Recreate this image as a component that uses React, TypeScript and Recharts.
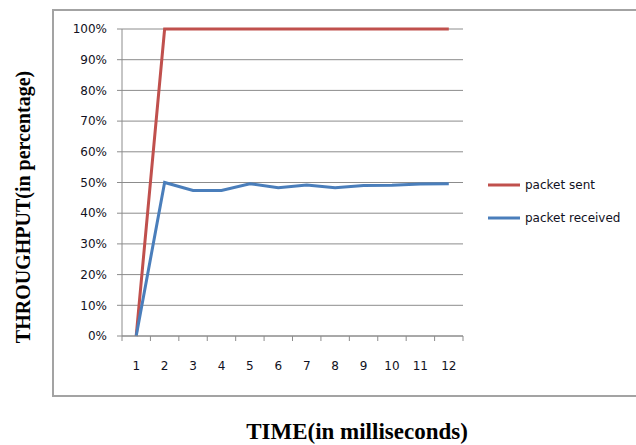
import { LineChart, Line, XAxis, YAxis, CartesianGrid, Legend, Label } from 'recharts';

const times = ['1', '2', '3', '4', '5', '6', '7', '8', '9', '10', '11', '12'];
const packetSent = [0, 100, 100, 100, 100, 100, 100, 100, 100, 100, 100, 100];
const packetReceived = [0, 50, 47.4, 47.4, 49.6, 48.3, 49.2, 48.3, 49, 49.1, 49.5, 49.6];
const yTicks = [0, 10, 20, 30, 40, 50, 60, 70, 80, 90, 100];

const data = times.map((t, i) => ({ time: t, sent: packetSent[i], received: packetReceived[i] }));

const series = [
  { key: 'sent', name: 'packet sent', color: '#C0504D' },
  { key: 'received', name: 'packet received', color: '#4A7EBB' },
];

const tickFont = { fontFamily: 'DejaVu Sans', fontSize: 12, fill: '#111122' };
const halfBand = 14.2;

// excel style category ticks: marks sit between the categories
const TimeTick = (props: any) => {
  const { x, y, payload, index } = props;
  return (
    <g>
      <line x1={x - halfBand} x2={x - halfBand} y1={y} y2={y + 5} stroke="#8c8c8c" />
      {index === times.length - 1 && (
        <line x1={x + halfBand} x2={x + halfBand} y1={y} y2={y + 5} stroke="#8c8c8c" />
      )}
      <text x={x} y={y + 34} textAnchor="middle" {...tickFont}>
        {payload.value}
      </text>
    </g>
  );
};

const renderLegend = () => (
  <div style={{ fontFamily: 'DejaVu Sans', fontSize: 12, color: '#111122' }}>
    {series.map((s) => (
      <div key={s.key} style={{ display: 'flex', alignItems: 'center', height: 33 }}>
        <svg width={34} height={6} style={{ marginRight: 4 }}>
          <line x1={1} x2={33} y1={3} y2={3} stroke={s.color} strokeWidth={3} />
        </svg>
        <span>{s.name}</span>
      </div>
    ))}
  </div>
);

const App = () => {
  return (
    <div style={{ position: 'absolute', left: 0, top: 0, width: 636, height: 445, overflow: 'hidden', background: '#fff' }}>
      <div
        style={{
          position: 'absolute',
          left: 52,
          top: 9,
          width: 600,
          height: 384,
          border: '2px solid #a3a3a3',
        }}
      />
      <div style={{ position: 'absolute', left: 0, top: 0 }}>
        <LineChart width={636} height={445} data={data} margin={{ top: 29, right: 173, bottom: 69, left: 0 }}>
          <CartesianGrid vertical={false} stroke="#8c8c8c" />
          <XAxis
            dataKey="time"
            padding={{ left: halfBand, right: halfBand }}
            interval={0}
            height={40}
            tickLine={false}
            tickSize={0}
            tickMargin={0}
            tick={<TimeTick />}
            axisLine={{ stroke: '#8c8c8c' }}
          >
            <Label
              content={() => (
                <text x={357} y={439} textAnchor="middle" fontFamily="Liberation Serif" fontWeight="bold" fontSize={23} fill="#000">
                  TIME(in milliseconds)
                </text>
              )}
            />
          </XAxis>
          <YAxis
            width={122}
            domain={[0, 100]}
            ticks={yTicks}
            interval={0}
            tickFormatter={(v) => `${v}%`}
            tickSize={5}
            tickMargin={10}
            tick={tickFont}
            tickLine={{ stroke: '#8c8c8c' }}
            axisLine={{ stroke: '#8c8c8c' }}
          >
            <Label
              content={() => (
                <text
                  x={30}
                  y={207}
                  transform="rotate(-90 30 207)"
                  textAnchor="middle"
                  fontFamily="Liberation Serif"
                  fontWeight="bold"
                  fontSize={20}
                  fill="#000"
                >
                  THROUGHPUT(in percentage)
                </text>
              )}
            />
          </YAxis>
          <Legend
            layout="horizontal"
            verticalAlign="middle"
            align="center"
            content={renderLegend}
            wrapperStyle={{ left: 487, top: 168, width: 150 }}
          />
          {series.map((s) => (
            <Line
              key={s.key}
              dataKey={s.key}
              name={s.name}
              stroke={s.color}
              strokeWidth={3}
              dot={false}
              isAnimationActive={false}
            />
          ))}
        </LineChart>
      </div>
    </div>
  );
};

export default App;
